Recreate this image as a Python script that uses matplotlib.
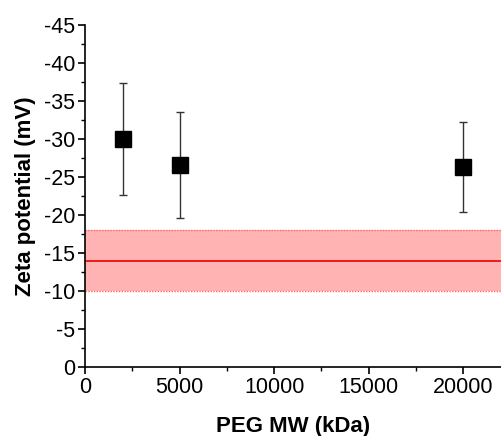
import numpy as np
import matplotlib
matplotlib.use("Agg")
import matplotlib.pyplot as plt
from matplotlib.ticker import MultipleLocator

plt.rcParams['font.family'] = ['Liberation Sans', 'DejaVu Sans']
plt.rcParams['axes.unicode_minus'] = False

# data
peg_mw = [2000, 5000, 20000]
zeta = [-30.0, -26.6, -26.3]
zeta_err = [7.4, 7.0, 5.9]
ref_mean = -14.0
ref_low = -10.0
ref_high = -18.0

fig = plt.figure(figsize=(5.01, 4.36), dpi=100)
ax = fig.add_axes([0.170, 0.158, 0.830, 0.785])

# reference band
ax.axhspan(ref_high, ref_low, color='#ffb3b3', lw=0, zorder=1)
ax.axhline(ref_high, color='#ff6666', lw=1.0, ls=(0, (1, 1)), zorder=2)
ax.axhline(ref_low, color='#ff6666', lw=1.0, ls=(0, (1, 1)), zorder=2)
ax.axhline(ref_mean, color='#ee0000', lw=1.2, zorder=2)

ax.errorbar(peg_mw, zeta, yerr=zeta_err, fmt='s', color='black', ms=11,
            ecolor='#333333', elinewidth=1.0, capsize=3, capthick=1.0, zorder=3)

ax.set_xlim(0, 22000)
ax.set_ylim(0, -45)
ax.xaxis.set_major_locator(MultipleLocator(5000))
ax.xaxis.set_minor_locator(MultipleLocator(2500))
ax.yaxis.set_major_locator(MultipleLocator(5))
ax.yaxis.set_minor_locator(MultipleLocator(2.5))

for s in ['top', 'right']:
    ax.spines[s].set_visible(False)
for s in ['left', 'bottom']:
    ax.spines[s].set_linewidth(1.2)
ax.tick_params(which='major', direction='out', length=5, width=1.2, labelsize=15.5, pad=2)
ax.tick_params(which='minor', direction='out', length=3, width=1.0)

ax.set_xlabel('PEG MW (kDa)', fontsize=16, fontweight='bold', labelpad=13)
ax.set_ylabel('Zeta potential (mV)', fontsize=16, fontweight='bold', labelpad=6)

fig.savefig('out.png', dpi=100)
